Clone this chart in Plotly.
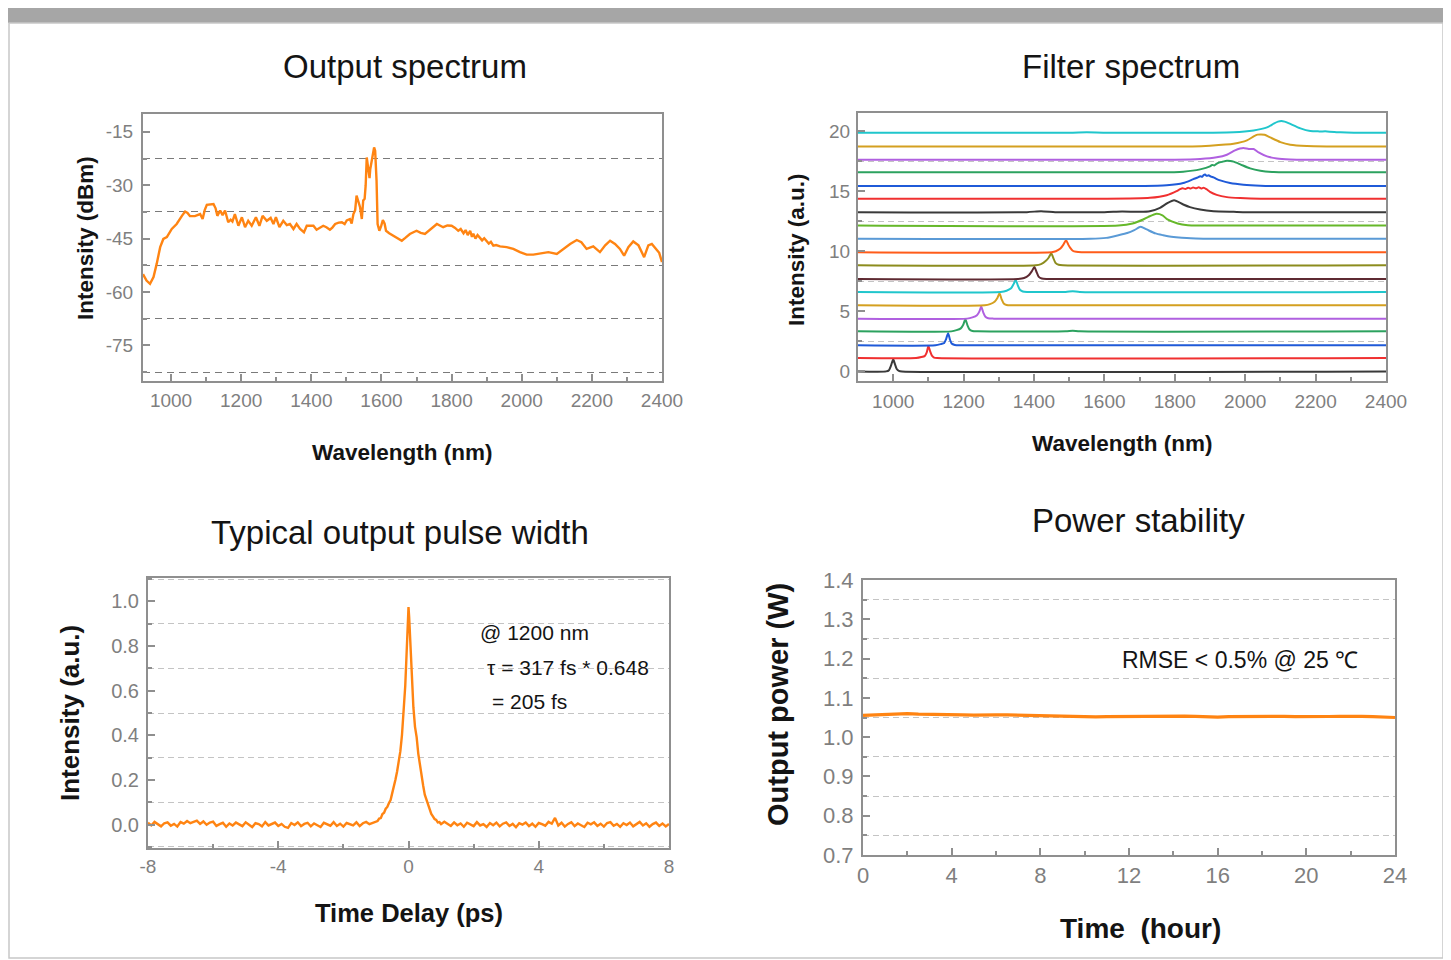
import plotly.graph_objects as go

# ---------------- data ----------------
# Output spectrum (wavelength nm, intensity dBm)
spec_wl = [920, 930, 940, 950, 959, 969, 978, 988, 1002, 1016, 1031, 1040, 1047, 1054, 1068, 1083, 1090, 1096,
           1102, 1121, 1127, 1132, 1140, 1147, 1154, 1158, 1163, 1170, 1175, 1182, 1192, 1202, 1211, 1220, 1230,
           1242, 1252, 1261, 1273, 1284, 1292, 1299, 1309, 1320, 1330, 1339, 1349, 1358, 1368, 1379, 1387, 1396,
           1406, 1415, 1425, 1434, 1443, 1453, 1460, 1468, 1478, 1487, 1495, 1501, 1510, 1515, 1520, 1525, 1529,
           1534, 1539, 1544, 1548, 1552, 1555, 1558, 1561, 1563, 1566, 1568, 1572, 1575, 1579, 1582, 1584, 1586,
           1589, 1594, 1599, 1604, 1609, 1613, 1622, 1634, 1645, 1658, 1668, 1681, 1700, 1712, 1724, 1740, 1758,
           1776, 1788, 1800, 1810, 1819, 1826, 1834, 1840, 1846, 1853, 1858, 1862, 1868, 1874, 1881, 1887, 1893,
           1900, 1906, 1912, 1919, 1927, 1938, 1957, 1976, 1995, 2014, 2033, 2052, 2076, 2100, 2119, 2138, 2157,
           2170, 2185, 2204, 2223, 2238, 2252, 2266, 2280, 2292, 2304, 2318, 2333, 2349, 2361, 2371, 2383, 2392, 2400]
spec_db = [-55.0, -56.8, -57.7, -55.8, -52.1, -47.4, -45.1, -44.6, -42.3, -40.9, -38.6, -37.4, -37.8, -38.7, -38.7,
           -38.1, -39.5, -37.0, -35.5, -35.3, -36.5, -38.6, -37.1, -38.4, -37.1, -38.9, -40.4, -39.7, -40.2, -38.1,
           -41.4, -39.0, -41.8, -40.0, -41.4, -39.0, -41.4, -38.6, -40.0, -39.2, -40.9, -39.0, -41.8, -40.0, -41.2,
           -40.9, -42.3, -40.9, -42.3, -43.2, -41.4, -41.4, -41.4, -42.5, -41.8, -41.4, -41.8, -42.5, -41.9, -40.9,
           -40.5, -40.4, -40.9, -39.9, -39.5, -40.8, -38.1, -37.0, -32.9, -34.5, -36.2, -39.5, -34.3, -33.8, -30.0,
           -22.2, -24.5, -26.9, -28.0, -25.5, -23.6, -22.0, -19.4, -20.3, -23.5, -28.7, -40.9, -42.8, -41.5, -39.8,
           -40.8, -42.8, -43.5, -44.2, -44.6, -45.6, -44.8, -43.7, -42.8, -43.4, -43.7, -42.5, -40.9, -41.8, -41.3,
           -41.4, -42.0, -42.8, -42.3, -43.5, -42.6, -44.0, -42.8, -44.5, -43.6, -45.0, -44.0, -44.8, -45.5, -44.9,
           -45.8, -46.4, -45.9, -47.0, -46.8, -47.2, -47.4, -47.9, -48.8, -49.5, -49.5, -49.1, -48.8, -49.3, -47.9,
           -46.5, -45.4, -46.0, -47.9, -47.2, -48.8, -46.9, -45.6, -46.5, -47.9, -49.8, -47.4, -45.8, -46.9, -50.2,
           -46.9, -46.5, -47.9, -49.0, -51.6]
spec_xticks = [1000, 1200, 1400, 1600, 1800, 2000, 2200, 2400]
spec_yticks = [-75, -60, -45, -30, -15]
spec_yticklabels = ['-75', '-60', '-45', '-30', '-15']

# Filter spectrum: vertical offsets of the stacked traces, colours, and each trace's (wavelength, height) points
filt_offsets = [0.0, 1.11, 2.17, 3.33, 4.39, 5.50, 6.61, 7.69, 8.83, 9.92, 11.03, 12.14, 13.25, 14.36, 15.42,
                16.56, 17.61, 18.72, 19.86]
filt_colors = ['#3a3a3a', '#f03030', '#1f5ad8', '#2ca25f', '#b060e0', '#d4a020', '#20c6cc', '#5e2a32', '#8c8c1e',
               '#ff5c1a', '#5a9ad6', '#66b82a', '#3a3a3a', '#f03030', '#1f5ad8', '#2ca25f', '#b060e0', '#d4a020',
               '#20c6cc']
filt_wl = [
    [900, 980, 988, 994, 1000, 1005, 1010, 1016, 1025, 2400],
    [900, 1065, 1080, 1090, 1095, 1100, 1105, 1110, 1116, 1125, 2400],
    [900, 1120, 1135, 1145, 1150, 1156, 1161, 1166, 1175, 1190, 2400],
    [900, 1165, 1180, 1192, 1199, 1205, 1211, 1217, 1225, 1240, 1490, 1510, 1530, 2400],
    [900, 1210, 1225, 1238, 1245, 1250, 1256, 1262, 1270, 1285, 2400],
    [900, 1260, 1275, 1288, 1296, 1302, 1308, 1314, 1322, 1335, 2400],
    [900, 1305, 1322, 1335, 1342, 1348, 1354, 1360, 1368, 1380, 1490, 1510, 1530, 2400],
    [900, 1355, 1372, 1385, 1394, 1401, 1407, 1413, 1422, 1435, 2400],
    [900, 1405, 1420, 1433, 1442, 1449, 1455, 1461, 1470, 1482, 2400],
    [900, 1450, 1462, 1475, 1484, 1491, 1497, 1503, 1510, 1520, 1535, 2400],
    [900, 1560, 1605, 1640, 1665, 1685, 1703, 1720, 1745, 1767, 1790, 1820, 1860, 1900, 2400],
    [900, 1640, 1680, 1710, 1725, 1748, 1765, 1779, 1808, 1837, 1870, 2400],
    [900, 1380, 1420, 1460, 1500, 1600, 1650, 1700, 1729, 1758, 1777, 1798, 1824, 1843, 1872, 1910, 1967, 2005, 2400],
    [900, 1600, 1729, 1777, 1805, 1815, 1822, 1830, 1838, 1845, 1852, 1860, 1868, 1875, 1882, 1890, 1900, 1919, 1948,
     1986, 2043, 2400],
    [900, 1700, 1777, 1824, 1853, 1866, 1872, 1878, 1882, 1886, 1891, 1896, 1903, 1910, 1918, 1929, 1957, 1995, 2043,
     2100, 2400],
    [900, 1750, 1824, 1872, 1900, 1906, 1912, 1918, 1924, 1935, 1948, 1958, 1967, 1986, 2014, 2043, 2081, 2119, 2400],
    [900, 1800, 1872, 1919, 1948, 1971, 1985, 1995, 2010, 2024, 2038, 2062, 2090, 2128, 2175, 2400],
    [900, 1850, 1900, 1967, 2005, 2024, 2035, 2045, 2055, 2071, 2100, 2128, 2175, 2232, 2400],
    [900, 1500, 1550, 1600, 1700, 1900, 1967, 2024, 2062, 2081, 2093, 2103, 2112, 2123, 2157, 2185, 2210, 2233, 2271,
     2309, 2400],
]
filt_h = [
    [0, 0, 0.1, 0.5, 1.0, 0.6, 0.2, 0.05, 0, 0],
    [0, 0, 0.08, 0.18, 0.45, 1.0, 0.55, 0.2, 0.04, 0, 0],
    [0, 0, 0.1, 0.2, 0.5, 1.0, 0.5, 0.15, 0.03, 0, 0],
    [0, 0, 0.1, 0.25, 0.55, 1.0, 0.5, 0.15, 0.03, 0, 0, 0.05, 0, 0],
    [0, 0, 0.1, 0.28, 0.6, 1.0, 0.5, 0.15, 0.03, 0, 0],
    [0, 0, 0.1, 0.3, 0.6, 1.0, 0.5, 0.15, 0.03, 0, 0],
    [0, 0, 0.1, 0.3, 0.65, 1.0, 0.55, 0.18, 0.04, 0, 0, 0.06, 0, 0],
    [0, 0, 0.08, 0.3, 0.65, 1.0, 0.6, 0.2, 0.04, 0, 0],
    [0, 0, 0.1, 0.35, 0.65, 1.0, 0.6, 0.2, 0.04, 0, 0],
    [0, 0, 0.08, 0.3, 0.65, 1.0, 0.65, 0.35, 0.12, 0.03, 0, 0],
    [0, 0, 0.08, 0.3, 0.48, 0.72, 1.0, 0.78, 0.45, 0.3, 0.17, 0.08, 0.03, 0, 0],
    [0, 0, 0.17, 0.5, 0.72, 0.98, 0.85, 0.5, 0.17, 0.03, 0, 0],
    [0, 0, 0.08, 0, 0, 0, 0.05, 0.03, 0.08, 0.36, 0.72, 1.0, 0.64, 0.42, 0.22, 0.08, 0.03, 0, 0],
    [0, 0, 0.08, 0.3, 0.64, 0.8, 0.88, 0.82, 0.93, 0.85, 0.95, 0.87, 0.96, 0.86, 0.93, 0.8, 0.58, 0.33, 0.14, 0.06,
     0, 0],
    [0, 0, 0.06, 0.25, 0.58, 0.72, 0.82, 0.78, 0.92, 0.96, 0.85, 0.9, 0.78, 0.72, 0.6, 0.47, 0.25, 0.11, 0.03, 0, 0],
    [0, 0, 0.06, 0.25, 0.5, 0.62, 0.58, 0.7, 0.8, 0.88, 0.96, 0.95, 0.89, 0.67, 0.33, 0.14, 0.03, 0, 0],
    [0, 0, 0.06, 0.2, 0.42, 0.78, 0.93, 0.98, 0.9, 0.89, 0.61, 0.28, 0.11, 0.03, 0, 0],
    [0, 0, 0.06, 0.22, 0.5, 0.83, 0.98, 1.0, 0.97, 0.75, 0.36, 0.14, 0.03, 0, 0],
    [0, 0, 0.03, 0, 0, 0, 0.03, 0.19, 0.44, 0.75, 0.92, 0.97, 0.92, 0.8, 0.36, 0.14, 0.11, 0.11, 0.03, 0, 0],
]
filt_yticks = [0, 5, 10, 15, 20]

# Pulse autocorrelation (time delay ps, normalized intensity)
pulse_t = [-8.0, -7.9, -7.8, -7.7, -7.6, -7.5, -7.4, -7.3, -7.2, -7.1, -7.0, -6.9, -6.8, -6.7, -6.6, -6.5, -6.4,
           -6.3, -6.2, -6.1, -6.0, -5.9, -5.8, -5.7, -5.6, -5.5, -5.4, -5.3, -5.2, -5.1, -5.0, -4.9, -4.8, -4.7,
           -4.6, -4.5, -4.4, -4.3, -4.2, -4.1, -4.0, -3.9, -3.8, -3.7, -3.6, -3.5, -3.4, -3.3, -3.2, -3.1, -3.0,
           -2.9, -2.8, -2.7, -2.6, -2.5, -2.4, -2.3, -2.2, -2.1, -2.0, -1.9, -1.8, -1.7, -1.6, -1.5, -1.4, -1.3,
           -1.2, -1.1, -1.0, -0.95, -0.9, -0.85, -0.8, -0.75, -0.7, -0.65, -0.6, -0.55, -0.5, -0.45, -0.4, -0.35,
           -0.3, -0.25, -0.2, -0.15, -0.1, -0.07, -0.04, -0.02, 0.0, 0.02, 0.04, 0.07, 0.1, 0.15, 0.2, 0.25, 0.3,
           0.35, 0.4, 0.45, 0.5, 0.55, 0.6, 0.65, 0.7, 0.75, 0.8, 0.85, 0.9, 0.95, 1.0, 1.1, 1.2, 1.3, 1.4, 1.5,
           1.6, 1.7, 1.8, 1.9, 2.0, 2.1, 2.2, 2.3, 2.4, 2.5, 2.6, 2.7, 2.8, 2.9, 3.0, 3.1, 3.2, 3.3, 3.4, 3.5, 3.6,
           3.7, 3.8, 3.9, 4.0, 4.1, 4.2, 4.3, 4.4, 4.5, 4.6, 4.7, 4.8, 4.9, 5.0, 5.1, 5.2, 5.3, 5.4, 5.5, 5.6, 5.7,
           5.8, 5.9, 6.0, 6.1, 6.2, 6.3, 6.4, 6.5, 6.6, 6.7, 6.8, 6.9, 7.0, 7.1, 7.2, 7.3, 7.4, 7.5, 7.6, 7.7, 7.8,
           7.9, 8.0]
pulse_i = [0.008, -0.004, 0.012, 0.001, -0.008, 0.006, 0.010, -0.005, 0.003, -0.009,
           0.011, 0.004, 0.016, 0.006, 0.012, 0.018, 0.003, 0.014, -0.001, 0.009,
           0.013, -0.006, 0.002, 0.008, -0.010, 0.005, -0.004, 0.009, 0.001, -0.007,
           0.010, -0.002, -0.011, 0.006, 0.002, -0.008, 0.011, -0.004, 0.004, 0.009,
           -0.006, 0.003, -0.010, -0.015, 0.007, -0.002, 0.010, -0.007, 0.003, 0.008,
           -0.008, 0.005, -0.003, -0.011, 0.008, 0.002, -0.005, 0.011, -0.006, 0.004,
           -0.009, 0.007, 0.001, -0.004, 0.010, -0.007, 0.006, 0.012, 0.002, 0.009,
           0.014, 0.016, 0.027, 0.029, 0.047, 0.053, 0.071, 0.079, 0.097, 0.110, 0.141, 0.168, 0.202, 0.238,
           0.281, 0.329, 0.402, 0.498, 0.621, 0.726, 0.855, 0.928, 0.975, 0.931, 0.858, 0.752, 0.638, 0.526, 0.438,
           0.392, 0.318, 0.266, 0.208, 0.175, 0.134, 0.111, 0.083, 0.066, 0.048, 0.037, 0.025, 0.021, 0.010, 0.011,
           0.002,
           0.013, 0.003, -0.006, 0.010, -0.003, 0.005, -0.010, 0.008, 0.001, -0.007,
           0.011, -0.004, 0.002, -0.011, 0.007, -0.003, 0.009, -0.008, 0.004, 0.010,
           -0.006, 0.003, -0.012, 0.006, 0.000, 0.009, -0.007, 0.004, -0.010, 0.007,
           0.002, -0.005, 0.012, 0.004, 0.030, -0.004, 0.008, -0.009, 0.003, 0.010,
           -0.007, 0.005, -0.003, -0.011, 0.008, 0.001, 0.010, -0.006, 0.004, -0.009,
           0.007, 0.011, -0.005, 0.003, -0.010, 0.006, -0.002, 0.009, -0.008, 0.004,
           0.012, -0.004, 0.006, -0.010, 0.002, 0.009, -0.006, 0.005, -0.008, 0.003]
pulse_xticks = [-8, -4, 0, 4, 8]
pulse_xticklabels = ['-8', '-4', '0', '4', '8']

# Power stability (time h, output power W)
power_t = [0, 0.5, 1.0, 1.5, 2.0, 2.5, 3.0, 3.5, 4.0, 4.5, 5.0, 5.5, 6.0, 6.5, 7.0, 7.5, 8.0, 8.5, 9.0, 9.5, 10.0,
           10.5, 11.0, 11.5, 12.0, 12.5, 13.0, 13.5, 14.0, 14.5, 15.0, 15.5, 16.0, 16.5, 17.0, 17.5, 18.0, 18.5,
           19.0, 19.5, 20.0, 20.5, 21.0, 21.5, 22.0, 22.5, 23.0, 23.5, 24.0]
power_w = [1.0555, 1.0565, 1.0560, 1.0585, 1.0600, 1.0585, 1.0575, 1.0570, 1.0560, 1.0565, 1.0560, 1.0570, 1.0565,
           1.0568, 1.0560, 1.0555, 1.0550, 1.0545, 1.0540, 1.0530, 1.0520, 1.0515, 1.0520, 1.0525, 1.0525, 1.0520,
           1.0530, 1.0535, 1.0540, 1.0535, 1.0530, 1.0515, 1.0510, 1.0520, 1.0525, 1.0530, 1.0535, 1.0540, 1.0530,
           1.0520, 1.0515, 1.0510, 1.0525, 1.0530, 1.0540, 1.0530, 1.0520, 1.0510, 1.0500]

# ---------------- styling ----------------
W, H = 1451, 960
OFF = 8  # the page body margin shifts the figure by this many pixels
FONT = 'Liberation Sans, Arial, sans-serif'
ORANGE = '#ff8412'
TICKGRAY = '#7f7f7f'
FRAME = '#8f8f8f'


def fx(p):
    return (p - OFF) / W


def fy(p):
    return 1 - (p - OFF) / H


fig = go.Figure()

fig.add_trace(go.Scatter(x=spec_wl, y=spec_db, mode='lines', line=dict(color=ORANGE, width=2.4),
                         xaxis='x', yaxis='y', showlegend=False))

for wl, hh, off, col in zip(filt_wl, filt_h, filt_offsets, filt_colors):
    fig.add_trace(go.Scatter(x=wl, y=[off + v for v in hh], mode='lines',
                             line=dict(color=col, width=2, shape='spline', smoothing=0.6),
                             xaxis='x2', yaxis='y2', showlegend=False))

fig.add_trace(go.Scatter(x=pulse_t, y=pulse_i, mode='lines', line=dict(color=ORANGE, width=2.4),
                         xaxis='x3', yaxis='y3', showlegend=False))

fig.add_trace(go.Scatter(x=power_t, y=power_w, mode='lines', line=dict(color=ORANGE, width=3.2),
                         xaxis='x4', yaxis='y4', showlegend=False))


def axis(domain, rng, fsize, anchor, standoff, tickvals=None, ticktext=None, tick0=None, dtick=None, minor=None):
    d = dict(domain=domain, range=rng, anchor=anchor, automargin=False,
             showline=True, mirror=True, linecolor=FRAME, linewidth=2,
             ticks='inside', ticklen=7, tickwidth=1.5, tickcolor=FRAME,
             showgrid=False, zeroline=False, fixedrange=True,
             tickfont=dict(family=FONT, size=fsize, color=TICKGRAY),
             ticklabelstandoff=standoff)
    if tickvals is not None:
        d['tickmode'] = 'array'
        d['tickvals'] = tickvals
        d['ticktext'] = ticktext if ticktext is not None else [str(v) for v in tickvals]
    else:
        d['tick0'] = tick0
        d['dtick'] = dtick
    if minor:
        d['minor'] = minor
    return d


def grid_minor(t0, dt, color, dash):
    return dict(tick0=t0, dtick=dt, showgrid=True, gridcolor=color, griddash=dash, gridwidth=1.3,
                ticks='inside', ticklen=4, tickcolor=FRAME)


def tick_minor(t0, dt):
    return dict(tick0=t0, dtick=dt, ticks='inside', ticklen=4, tickwidth=1.5, tickcolor=FRAME, showgrid=False)


layout = dict(
    width=W, height=H, margin=dict(l=0, r=0, t=0, b=0, pad=0, autoexpand=False),
    paper_bgcolor='white', plot_bgcolor='white', showlegend=False,
    xaxis=axis([fx(143), fx(662)], [920, 2400], 19, 'y', 1, tickvals=spec_xticks, minor=tick_minor(1000, 100)),
    yaxis=axis([fy(381), fy(114)], [-85, -10], 19, 'x', 4, tickvals=spec_yticks, ticktext=spec_yticklabels,
               minor=grid_minor(-22.5, 15, '#7a7a7a', '7px,5px')),
    xaxis2=axis([fx(858), fx(1386)], [900, 2400], 19, 'y2', 2, tickvals=spec_xticks, minor=tick_minor(1000, 100)),
    yaxis2=axis([fy(381), fy(113)], [-0.8, 21.5], 19, 'x2', 2, tickvals=filt_yticks,
                minor=grid_minor(2.5, 5, '#c4c4c4', '6px,4px')),
    xaxis3=axis([fx(148), fx(669)], [-8, 8], 19, 'y3', 0, tickvals=pulse_xticks, ticktext=pulse_xticklabels,
                minor=tick_minor(-8, 2)),
    yaxis3=axis([fy(848), fy(578)], [-0.105, 1.105], 20, 'x3', 3, tick0=0, dtick=0.2,
                minor=grid_minor(0.1, 0.2, '#c4c4c4', '6px,4px')),
    xaxis4=axis([fx(863), fx(1395)], [0, 24], 22, 'y4', 0, tick0=0, dtick=4, minor=tick_minor(0, 2)),
    yaxis4=axis([fy(855), fy(580)], [0.7, 1.4], 22, 'x4', 3, tick0=0.7, dtick=0.1,
                minor=grid_minor(0.75, 0.1, '#c4c4c4', '6px,4px')),
)
layout['yaxis3']['tickformat'] = '.1f'
layout['yaxis4']['tickformat'] = '.1f'
fig.update_layout(**layout)

# page decoration: grey header bar and thin panel frame
fig.add_shape(type='rect', xref='paper', yref='paper', x0=0, x1=1, y0=fy(23), y1=1,
              fillcolor='#a6a6a6', line=dict(width=0), layer='below')
fig.add_shape(type='rect', xref='paper', yref='paper', x0=fx(9), x1=fx(1443), y0=fy(958), y1=fy(23),
              fillcolor='rgba(0,0,0,0)', line=dict(color='#c8c8c8', width=1.5), layer='below')

TXT = '#141414'


def ann(text, x, y, size, bold=False, angle=0):
    fig.add_annotation(text=text, xref='paper', yref='paper', x=fx(x), y=fy(y), xanchor='center',
                       yanchor='middle', showarrow=False, textangle=angle,
                       font=dict(family=FONT, size=size, color=TXT, weight='bold' if bold else 'normal'))


# panel titles
ann('Output spectrum', 405, 67, 33)
ann('Filter spectrum', 1131, 67, 33)
ann('Typical output pulse width', 400, 532, 33)
ann('Power stability', 1138, 520, 33)

# axis titles
ann('Wavelength (nm)', 402, 452, 22.5, True)
ann('Intensity (dBm)', 85, 238, 22.5, True, -90)
ann('Wavelength (nm)', 1122, 444, 22.5, True)
ann('Intensity (a.u.)', 797, 249, 22.5, True, -90)
ann('Time Delay (ps)', 409, 913, 25.5, True)
ann('Intensity (a.u.)', 70, 713, 26, True, -90)
ann('Time\u00a0 (hour)', 1140, 928, 28, True)
ann('Output power (W)', 778, 705, 29, True, -90)

# in-plot notes
for txt, xv, yv in [('@ 1200 nm', 2.12, 0.861), ('\u03c4 = 317 fs * 0.648', 2.34, 0.704),
                    ('= 205 fs', 2.5, 0.552)]:
    fig.add_annotation(text=txt, xref='x3', yref='y3', x=xv, y=yv, xanchor='left', yanchor='middle',
                       showarrow=False, font=dict(family=FONT, size=21, color=TXT))
fig.add_annotation(text='RMSE < 0.5% @ 25 \u2103', xref='x4', yref='y4', x=17.0, y=1.196, xanchor='center',
                   yanchor='middle', showarrow=False, font=dict(family=FONT, size=23, color=TXT))

fig.write_html('out.html')
